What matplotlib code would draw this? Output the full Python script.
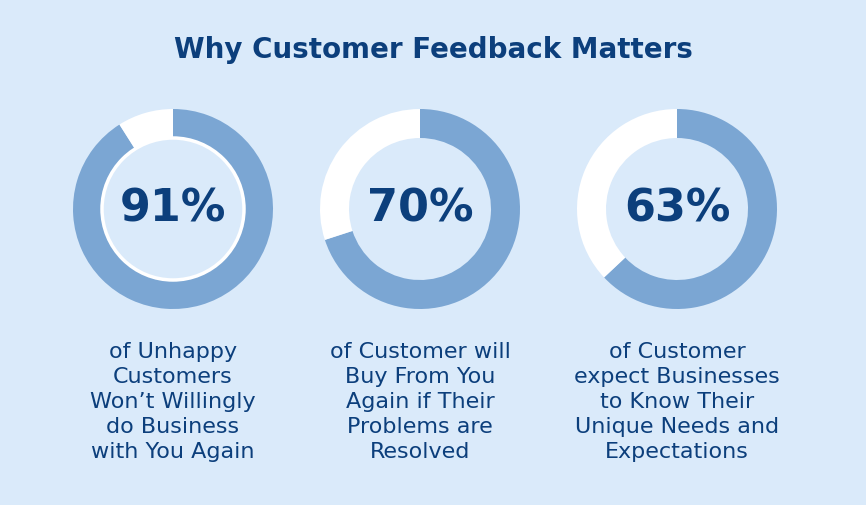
import matplotlib.pyplot as plt

percents = [91, 70, 63]
labels = ["91%", "70%", "63%"]
captions = [
    "of Unhappy\nCustomers\nWon\u2019t Willingly\ndo Business\nwith You Again",
    "of Customer will\nBuy From You\nAgain if Their\nProblems are\nResolved",
    "of Customer\nexpect Businesses\nto Know Their\nUnique Needs and\nExpectations",
]
centers_x = [173, 420, 677]

BG = "#DAEAFA"
RING = "#7BA6D3"
DARK = "#0C3F7C"
H = 505

fig = plt.figure(figsize=(8.66, 5.05), dpi=100, facecolor=BG)
ax = fig.add_axes([0, 0, 1, 1])
ax.set_xlim(0, 866)
ax.set_ylim(0, H)
ax.set_aspect("equal")
ax.axis("off")

fig.text(0.5, 1 - 50 / H, "Why Customer Feedback Matters", ha="center", va="center",
         fontsize=20, fontweight="bold", color=DARK, family="DejaVu Sans")

for i, (p, lab, cap, cx) in enumerate(zip(percents, labels, captions, centers_x)):
    cy = H - 209
    ax.pie([p, 100 - p], colors=[RING, "white"], startangle=90, counterclock=False,
           radius=100, center=(cx, cy), wedgeprops=dict(width=29, linewidth=0))
    if i == 0:
        ax.add_patch(plt.Circle((cx, cy), 71, fill=False, ec="white", lw=2.5))
    ax.text(cx, cy, lab, ha="center", va="center", fontsize=32, fontweight="bold",
            color=DARK, family="DejaVu Sans")
    ax.text(cx, H - 402, cap, ha="center", va="center", fontsize=16, color=DARK,
            family="DejaVu Sans", linespacing=1.3)

ax.set_xlim(0, 866)
ax.set_ylim(0, H)
fig.savefig("out.png", dpi=100, facecolor=BG)
